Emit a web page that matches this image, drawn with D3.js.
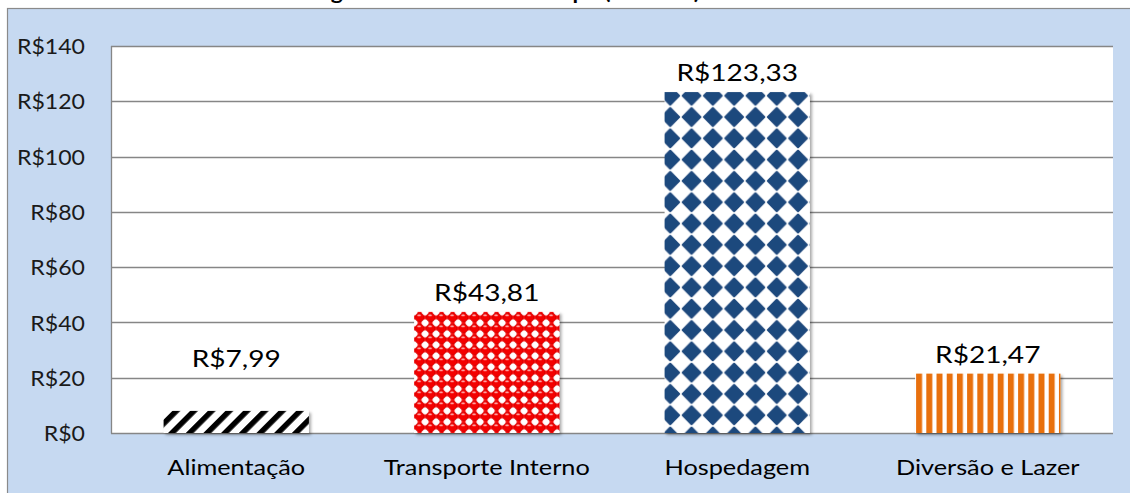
<!DOCTYPE html>
<html><head><meta charset="utf-8">
<script src="https://cdn.jsdelivr.net/npm/d3@7"></script>
<style>body{margin:0;background:#fff;}svg{display:block;font-family:Lato,"Open Sans",sans-serif;}</style>
</head><body>
<svg id="c" width="1130" height="493"></svg>
<script>
const title = "Média dos gastos diários de cada tipo (em reais)";
const categories = ["Alimentação", "Transporte Interno", "Hospedagem", "Diversão e Lazer"];
const values = [7.99, 43.81, 123.33, 21.47];
const valueLabels = ["R$7,99", "R$43,81", "R$123,33", "R$21,47"];
const yTicks = [0, 20, 40, 60, 80, 100, 120, 140];
const patternIds = ["pStripeDiag", "pSpheres", "pDiamonds", "pStripeVert"];

const svg = d3.select("#c");
const W = 1130, H = 493;
const plot = {left: 111, right: 1113, top: 46, bottom: 433};

const x = d3.scaleBand().domain(categories).range([plot.left, plot.right]).paddingInner(0.42).paddingOuter(0.21);
const y = d3.scaleLinear().domain([0, 140]).range([plot.bottom, plot.top]);

const defs = svg.append("defs");
const f = defs.append("filter").attr("id","sh").attr("x","-10%").attr("y","-10%").attr("width","130%").attr("height","130%");
f.append("feDropShadow").attr("dx",2).attr("dy",2).attr("stdDeviation",1.6).attr("flood-color","#000").attr("flood-opacity",0.35);

// diagonal black stripes
const p1 = defs.append("pattern").attr("id","pStripeDiag").attr("patternUnits","userSpaceOnUse")
  .attr("width",12.5).attr("height",12.5).attr("patternTransform","rotate(45)");
p1.append("rect").attr("width",12.5).attr("height",12.5).attr("fill","#fff");
p1.append("rect").attr("x",0).attr("width",5.5).attr("height",12.5).attr("fill","#000");

// red spheres with white squares
const s = 11;
const p2 = defs.append("pattern").attr("id","pSpheres").attr("patternUnits","userSpaceOnUse")
  .attr("width",s).attr("height",s).attr("x", x(categories[1])).attr("y", y(values[1]));
p2.append("rect").attr("width",s).attr("height",s).attr("fill","#ff1010");
[[0,0],[s,0],[0,s],[s,s]].forEach(([cx,cy])=>p2.append("rect").attr("x",cx-3.5).attr("y",cy-3.5).attr("width",7).attr("height",7).attr("fill","#fff"));
p2.append("circle").attr("cx",s/2).attr("cy",s/2).attr("r",4.4).attr("fill","#f40000").attr("stroke","#c00000").attr("stroke-width",0.7);
p2.append("ellipse").attr("cx",s/2-0.5).attr("cy",s/2-2.1).attr("rx",1.8).attr("ry",0.9).attr("fill","#ffb0b0");

// navy diamonds
const dw = 21.3, dh = 21.3, r = 8.8;
const p3 = defs.append("pattern").attr("id","pDiamonds").attr("patternUnits","userSpaceOnUse")
  .attr("width",dw).attr("height",dh).attr("x", x(categories[2]) - 5).attr("y", y(values[2]) - 7);
p3.append("rect").attr("width",dw).attr("height",dh).attr("fill","#fff");
p3.append("path").attr("d",`M${dw/2},${dh/2-r} L${dw/2+r},${dh/2} L${dw/2},${dh/2+r} L${dw/2-r},${dh/2}Z`)
  .attr("fill","#1f497d").attr("stroke","#1f497d").attr("stroke-width",2.2).attr("stroke-linejoin","round");

// vertical orange stripes
const vw = 10.2;
const p4 = defs.append("pattern").attr("id","pStripeVert").attr("patternUnits","userSpaceOnUse")
  .attr("width",vw).attr("height",10).attr("x", x(categories[3]) + 1);
p4.append("rect").attr("width",vw).attr("height",10).attr("fill","#fff");
p4.append("rect").attr("x",0).attr("width",6).attr("height",10).attr("fill","#e8700f");

// title (cropped above the picture; only descenders show)
svg.append("text").attr("transform","translate(220,-1.5) scale(1.14,1)").attr("font-size",20).attr("font-weight","bold").attr("fill","#000").text(title);

// background
svg.append("rect").attr("x",7.5).attr("y",8.5).attr("width",W).attr("height",H).attr("fill","#c6d9f1").attr("stroke","#8a8a8a").attr("stroke-width",1.2);

// plot area
svg.append("rect").attr("x",plot.left).attr("y",plot.top).attr("width",plot.right-plot.left).attr("height",plot.bottom-plot.top).attr("fill","#fff");

// gridlines
svg.append("g").selectAll("line").data(yTicks).join("line")
  .attr("x1",plot.left).attr("x2",plot.right)
  .attr("y1",d=>Math.round(y(d))+0.5).attr("y2",d=>Math.round(y(d))+0.5)
  .attr("stroke","#868686").attr("stroke-width",1.3);
svg.append("line").attr("x1",plot.left+0.5).attr("x2",plot.left+0.5).attr("y1",plot.top).attr("y2",plot.bottom+0.5)
  .attr("stroke","#868686").attr("stroke-width",1.3);

// y axis labels
const yAxis = d3.axisLeft(y).tickValues(yTicks).tickSize(0).tickPadding(0).tickFormat(d=>"R$"+d);
const ga = svg.append("g").attr("transform",`translate(85,0)`).call(yAxis);
ga.select(".domain").remove();
ga.selectAll("text").attr("font-size",22).attr("font-family","Lato,sans-serif").attr("fill","#1a1a1a")
  .attr("x",0).attr("dy","0.35em").attr("transform",`scale(1.05,1)`);

// bars
svg.append("g").selectAll("rect").data(values).join("rect")
  .attr("x",(d,i)=>x(categories[i])).attr("width",x.bandwidth())
  .attr("y",d=>y(d)).attr("height",d=>y(0)-y(d))
  .attr("fill",(d,i)=>`url(#${patternIds[i]})`)
  .attr("filter","url(#sh)");

// value labels
svg.append("g").selectAll("text").data(values).join("text")
  .attr("transform",(d,i)=>`translate(${x(categories[i])+x.bandwidth()/2},${y(Math.max(d,20))-11}) scale(1.17,1)`)
  .attr("text-anchor","middle").attr("font-size",24).attr("fill","#000")
  .text((d,i)=>valueLabels[i]);

// x axis labels
const xAxis = d3.axisBottom(x).tickSize(0).tickPadding(0);
const gx = svg.append("g").attr("transform",`translate(0,${plot.bottom})`).call(xAxis);
gx.select(".domain").remove();
gx.selectAll("text").attr("font-size",22).attr("font-family","Lato,sans-serif").attr("fill","#000")
  .attr("dy","0").attr("y",0).attr("transform",`translate(0,42) scale(1.15,1)`);
</script>
</body></html>
